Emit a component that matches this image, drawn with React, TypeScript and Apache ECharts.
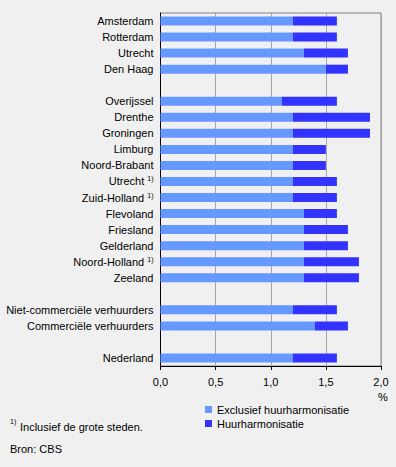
import React, { useEffect, useRef } from "react";
import * as echarts from "echarts";

// Categories (top to bottom); "" entries are blank spacer rows, "1)" marks a footnote
const categories = [
  "Amsterdam", "Rotterdam", "Utrecht", "Den Haag",
  "",
  "Overijssel", "Drenthe", "Groningen", "Limburg", "Noord-Brabant",
  "Utrecht 1)", "Zuid-Holland 1)", "Flevoland", "Friesland", "Gelderland",
  "Noord-Holland 1)", "Zeeland",
  "",
  "Niet-commerciële verhuurders", "Commerciële verhuurders",
  "",
  "Nederland",
];

const exclusief = [
  1.2, 1.2, 1.3, 1.5,
  null,
  1.1, 1.2, 1.2, 1.2, 1.2, 1.2, 1.2, 1.3, 1.3, 1.3, 1.3, 1.3,
  null,
  1.2, 1.4,
  null,
  1.2,
];

const huurharmonisatie = [
  0.4, 0.4, 0.4, 0.2,
  null,
  0.5, 0.7, 0.7, 0.3, 0.3, 0.4, 0.4, 0.3, 0.4, 0.4, 0.5, 0.5,
  null,
  0.4, 0.3,
  null,
  0.4,
];

const seriesNames = ["Exclusief huurharmonisatie", "Huurharmonisatie"];
const xTicks = [0, 0.5, 1.0, 1.5, 2.0];

const FONT = "'Liberation Sans', Arial, sans-serif";

export default function App() {
  const ref = useRef<HTMLDivElement>(null);

  useEffect(() => {
    document.body.style.margin = "0";
    const chart = echarts.init(ref.current!, null, { renderer: "svg" });
    const axisCats = categories.map((c, i) => (c === "" ? "_gap" + i : c));
    chart.setOption({
      animation: false,
      backgroundColor: "#f0f0f0",
      textStyle: { fontFamily: FONT },
      grid: {
        left: 160.5,
        top: 13,
        width: 220.5,
        height: 353,
        show: true,
        borderColor: "#808080",
        borderWidth: 1,
        backgroundColor: "transparent",
      },
      legend: {
        orient: "vertical",
        left: 205,
        top: 404,
        padding: 0,
        itemWidth: 7,
        itemHeight: 7,
        itemGap: 3,
        icon: "rect",
        data: seriesNames,
        textStyle: { fontSize: 11, color: "#000", fontFamily: FONT },
      },
      xAxis: {
        type: "value",
        min: xTicks[0],
        max: xTicks[xTicks.length - 1],
        interval: 0.5,
        axisLine: { show: true, lineStyle: { color: "#000", width: 1 } },
        axisTick: { show: true, length: 4, lineStyle: { color: "#000" } },
        splitLine: { show: true, lineStyle: { color: "#a6a6a6", width: 1 } },
        axisLabel: {
          fontSize: 11,
          color: "#000",
          margin: 10,
          fontFamily: FONT,
          formatter: (v: number) => v.toFixed(1).replace(".", ","),
        },
      },
      yAxis: {
        type: "category",
        inverse: true,
        data: axisCats,
        axisLine: { show: true, lineStyle: { color: "#000", width: 1 } },
        axisTick: { show: false },
        axisLabel: {
          fontSize: 11,
          color: "#000",
          margin: 7,
          fontFamily: FONT,
          formatter: (v: string) => {
            if (v.startsWith("_gap")) return "";
            if (v.endsWith(" 1)")) return v.slice(0, -3) + " {sup|1)}";
            return v;
          },
          rich: {
            sup: { fontSize: 7, color: "#000", verticalAlign: "top", padding: [0, 0, 5, 0], fontFamily: FONT },
          },
        },
      },
      series: [
        {
          name: seriesNames[0],
          type: "bar",
          stack: "total",
          barWidth: 9,
          itemStyle: { color: "#6699ff" },
          data: exclusief,
        },
        {
          name: seriesNames[1],
          type: "bar",
          stack: "total",
          barWidth: 9,
          itemStyle: { color: "#3333ff" },
          data: huurharmonisatie,
        },
      ],
      graphic: [
        { type: "text", left: 378, top: 391, style: { text: "%", fontSize: 11, fill: "#000", fontFamily: FONT } },
        { type: "text", left: 10, top: 418, style: { text: "1)", fontSize: 7, fill: "#000", fontFamily: FONT } },
        { type: "text", left: 20, top: 421, style: { text: "Inclusief de grote steden.", fontSize: 11, fill: "#000", fontFamily: FONT } },
        { type: "text", left: 10, top: 443, style: { text: "Bron: CBS", fontSize: 11, fill: "#000", fontFamily: FONT } },
      ],
    });
    return () => chart.dispose();
  }, []);

  return <div ref={ref} style={{ width: 396, height: 467 }} />;
}
